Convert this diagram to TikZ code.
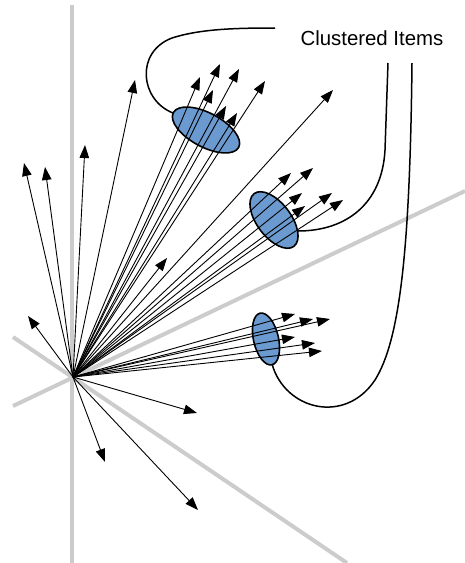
\documentclass[tikz,border=0pt]{standalone}
\usepackage{fontspec}
\setmainfont{Liberation Sans}
\usetikzlibrary{arrows.meta}
\definecolor{clusterblue}{RGB}{106,154,208}
\definecolor{axisgray}{RGB}{204,204,204}

\begin{document}
\begin{tikzpicture}[x=1pt, y=-1pt,
    axis/.style={line width=4pt, axisgray},
    vec/.style={line width=0.9pt, -{Triangle[length=13pt,width=9.5pt]}},
    cluster/.style={line width=1.6pt, fill=clusterblue, draw=black},
    link/.style={line width=1.5pt}]
    \useasboundingbox (0,0) rectangle (465,563);

    % Axes
    \coordinate (O) at (73,377);
    \draw[axis] (72,5) -- (72,563);
    \draw[axis] (13,337) -- (347,563);
    \draw[axis] (13,406) -- (465,191);

    % Clusters
    \coordinate (c1) at (206,130);
    \coordinate (c2) at (274,220);
    \coordinate (c3) at (266,339);
    \draw[cluster] (c1) ellipse[x radius=37, y radius=17, rotate=-28];
    \draw[cluster] (c2) ellipse[x radius=33, y radius=17, rotate=-53];
    \draw[cluster] (c3) ellipse[x radius=26.5, y radius=12.5, rotate=-77];

    % Label and links to the clusters
    \node[anchor=base west, font=\fontsize{20.4}{24}\selectfont] (lbl) at (297,45) {Clustered Items};
    \coordinate (l1) at (275,28);
    \coordinate (l2) at (388,63);
    \coordinate (l3) at (412,63);
    \draw[link] (173,113) .. controls (140,100) and (135,52) .. (172,38)
        .. controls (200,29) and (235,28) .. (l1);
    \draw[link] (298,231) .. controls (345,231) and (382,205) .. (385,150) -- (l2);
    \draw[link] (272,364) .. controls (285,410) and (345,425) .. (375,380)
        .. controls (400,340) and (410,250) .. (l3);

    % Single vectors
    \foreach \x/\y [count=\i] in {24/163, 45/167, 85/145, 135/80, 28/316,
        197/413, 105/462, 198/510, 333/90, 167/258}
    {
        \coordinate (s\i) at (\x,\y);
        \draw[vec] (O) -- (s\i);
    }

    % Vectors in the clusters
    \foreach \x/\y [count=\i] in {200/77, 220/64, 239/69, 213/90, 226/106, 237/113, 265/81,
        291/173, 313/168, 302/193, 305/206, 332/193, 343/200,
        295/314, 313/319, 330/319, 295/337, 315/343, 322/351}
    {
        \coordinate (v\i) at (\x,\y);
        \draw[vec] (O) -- (v\i);
    }
\end{tikzpicture}
\end{document}
